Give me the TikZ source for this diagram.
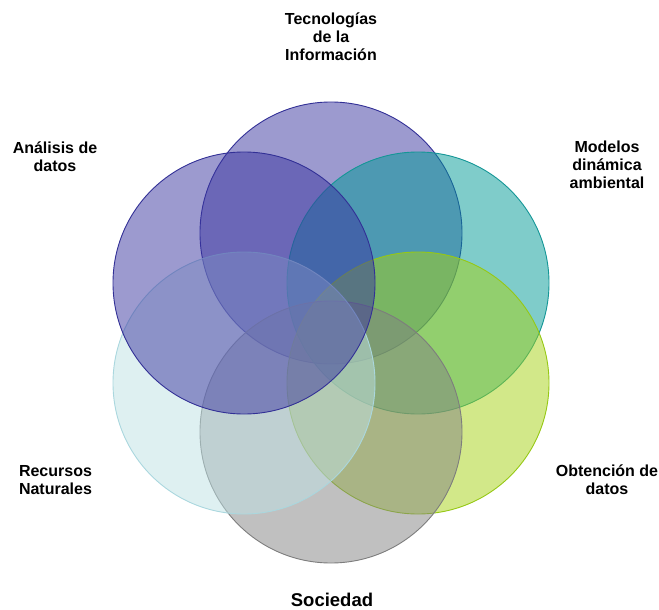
\documentclass[tikz,border=0pt]{standalone}
\usepackage{fontspec}
\setmainfont{Liberation Sans}
\definecolor{cpurple}{RGB}{58,53,160}
\definecolor{cpurpled}{RGB}{50,48,150}
\definecolor{cteal}{RGB}{0,153,150}
\definecolor{ctealdark}{RGB}{20,150,150}
\definecolor{cgreen}{RGB}{165,210,20}
\definecolor{cgreendark}{RGB}{150,200,20}
\definecolor{cgray}{RGB}{130,130,130}
\definecolor{cgraydark}{RGB}{125,125,125}
\definecolor{ccyan}{RGB}{190,225,228}
\definecolor{ccyandark}{RGB}{170,215,222}
\begin{document}
\begin{tikzpicture}[x=1pt,y=-1pt,
  ring/.style={circle,minimum size=262pt,inner sep=0pt,line width=0.9pt,fill opacity=0.5},
  lbl/.style={font=\bfseries\fontsize{16}{17.8}\selectfont,align=center,text=black,inner sep=0pt}]
\useasboundingbox (0,0) rectangle (659,610);
\node[ring,fill=cpurple,draw=cpurpled] (tec) at (331,233) {};
\node[ring,fill=cteal,draw=ctealdark] (mod) at (418,283) {};
\node[ring,fill=cgreen,draw=cgreendark] (obt) at (418,383) {};
\node[ring,fill=cgray,draw=cgraydark] (soc) at (331,432) {};
\node[ring,fill=ccyan,draw=ccyandark] (rec) at (244,383) {};
\node[ring,fill=cpurple,draw=cpurpled] (ana) at (244,283) {};
\node[lbl] (ltec) at (331,36.5) {Tecnologías\\de la\\Información};
\node[lbl] (lana) at (55,156.5) {Análisis de\\datos};
\node[lbl] (lmod) at (607,165) {Modelos\\dinámica\\ambiental};
\node[lbl] (lrec) at (55.5,480) {Recursos\\Naturales};
\node[lbl] (lobt) at (607,480) {Obtención de\\datos};
\node[font=\bfseries\fontsize{18.5}{22}\selectfont,inner sep=0pt] (lsoc) at (332,600) {Sociedad};
\end{tikzpicture}
\end{document}
